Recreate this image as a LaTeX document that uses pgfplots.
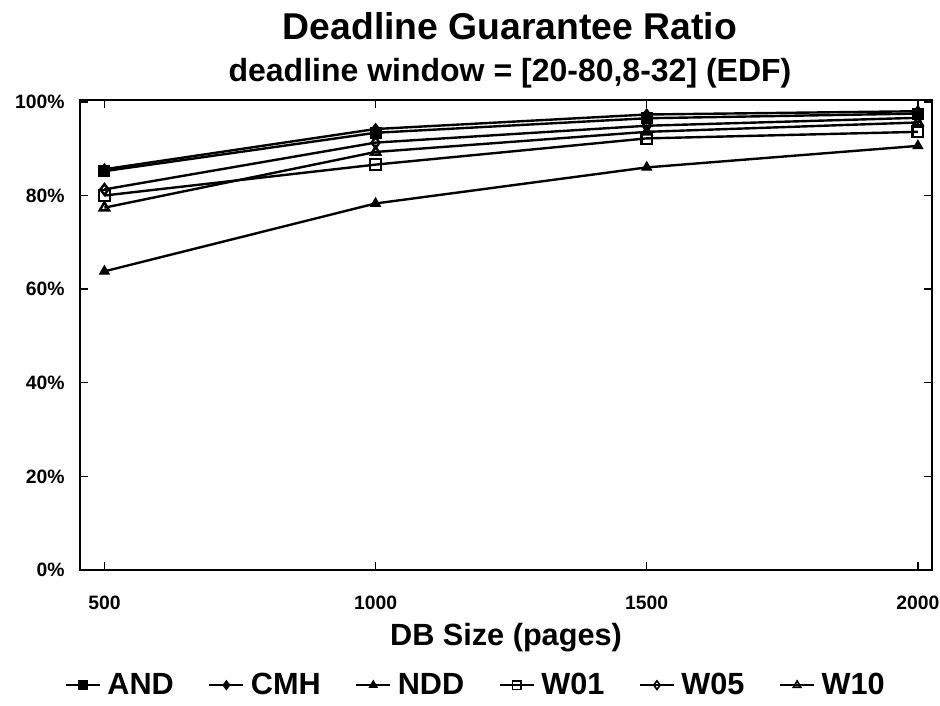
\documentclass[border=0pt]{standalone}
\usepackage{fontspec}
\setmainfont{Liberation Sans}
\usepackage{pgfplots}
\pgfplotsset{compat=1.18}
\begin{document}
\begin{tikzpicture}
\path[use as bounding box] (0pt,0pt) rectangle (705pt,-529.5pt);
\node[anchor=base,font=\fontsize{28}{30}\selectfont\bfseries] at (382.5pt,-30pt) {Deadline Guarantee Ratio};
\node[anchor=base,font=\fontsize{24}{26}\selectfont\bfseries] at (382.5pt,-61.5pt) {deadline window = [20-80,8-32] (EDF)};
\begin{axis}[
  at={(60pt,-427.5pt)}, anchor=south west,
  scale only axis, width=639pt, height=352.5pt,
  xmin=455, xmax=2026, ymin=0, ymax=100.4,
  axis line style={line width=2.2pt},
  xtick={500,1000,1500,2000},
  ytick={0,20,40,60,80,100},
  yticklabel={\pgfmathprintnumber{\tick}\%},
  /pgf/number format/assume math mode=true,
  /pgf/number format/1000 sep={},
  tick style={line width=1pt, black},
  major tick length=6pt,
  tick label style={font=\fontsize{14.5}{16}\selectfont\bfseries},
  xticklabel style={yshift=-16pt},
  yticklabel style={xshift=-8pt},
  xlabel={DB Size (pages)},
  xlabel style={font=\fontsize{23}{25}\selectfont\bfseries, yshift=-3pt},
  every axis plot/.append style={line width=1.8pt, black, mark size=4pt, mark options={solid, line width=1pt}},
  legend columns=6,
  legend style={draw=none, fill=none, font=\fontsize{23}{25}\selectfont\bfseries,
    at={(0.465,-0.245)}, anchor=center,
    /tikz/every odd column/.append style={column sep=3pt},
    /tikz/every even column/.append style={column sep=24pt}},
  legend image code/.code={\draw[#1, line width=1.2pt, mark repeat=2, mark phase=2, mark size=3.2pt] plot coordinates {(0cm,0cm) (0.45cm,0cm) (0.9cm,0cm)};},
]
\addplot[mark=square*] coordinates {(500,85.2) (1000,93.4) (1500,96.5) (2000,97.5)};
\addlegendentry{AND}
\addplot[mark=diamond*] coordinates {(500,85.6) (1000,94.2) (1500,97.3) (2000,98.0)};
\addlegendentry{CMH}
\addplot[mark=triangle*] coordinates {(500,63.8) (1000,78.3) (1500,86.0) (2000,90.6)};
\addlegendentry{NDD}
\addplot[mark=square, mark options={fill=white}] coordinates {(500,80.0) (1000,86.6) (1500,92.2) (2000,93.6)};
\addlegendentry{W01}
\addplot[mark=diamond, mark options={fill=white}] coordinates {(500,81.3) (1000,91.3) (1500,94.9) (2000,96.6)};
\addlegendentry{W05}
\addplot[mark=triangle, mark options={fill=white}] coordinates {(500,77.4) (1000,89.3) (1500,93.6) (2000,95.6)};
\addlegendentry{W10}
\end{axis}
\end{tikzpicture}
\end{document}
